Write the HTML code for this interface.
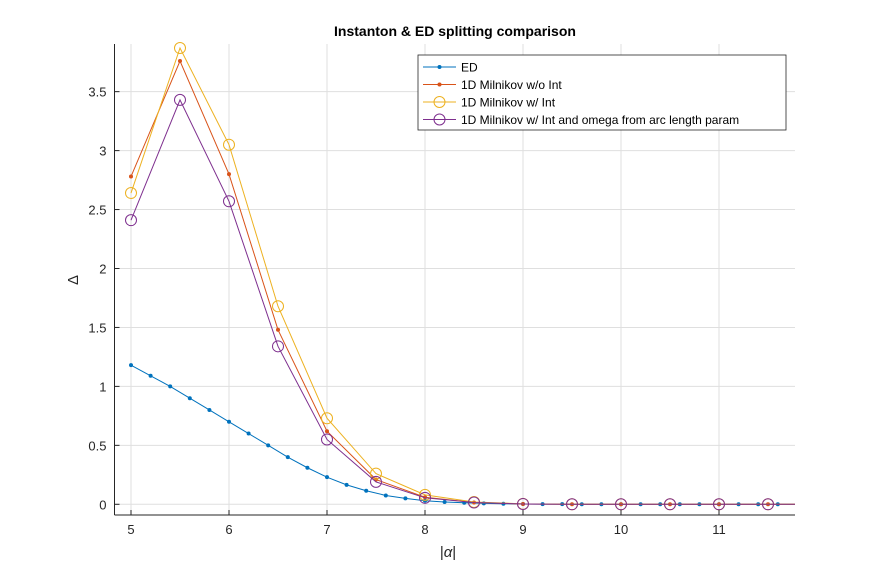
<!DOCTYPE html>
<html><head><meta charset="utf-8"><style>
body{margin:0;background:#fff;font-family:"Liberation Sans",sans-serif}
svg text{font-family:"Liberation Sans",sans-serif}
</style></head><body>
<svg width="879" height="580">
<rect width="879" height="580" fill="#fff"/>
<g id="grid"></g>
<g id="series"></g>
<g id="axes"></g>
<text x="455" y="36" text-anchor="middle" font-size="14" font-weight="bold" fill="#000">Instanton &amp; ED splitting comparison</text>
<text x="448" y="557" text-anchor="middle" font-size="15" font-family="Liberation Serif" fill="#262626">|<tspan font-style="italic">α</tspan>|</text>
<text x="78" y="280" text-anchor="middle" font-size="15" fill="#262626" transform="rotate(-90 78 280)">Δ</text>
<g>
<rect x="418" y="55" width="368" height="75" fill="#fff" stroke="#262626" stroke-width="0.8"/>
<g id="legend"></g>
</g>
</svg>
<script>
const edX=[5,5.2,5.4,5.6,5.8,6,6.2,6.4,6.6,6.8,7,7.2,7.4,7.6,7.8,8,8.2,8.4,8.6,8.8,9,9.2,9.4,9.6,9.8,10,10.2,10.4,10.6,10.8,11,11.2,11.4,11.6,11.8];
const edY=[1.18,1.09,1.0,0.9,0.8,0.7,0.6,0.5,0.4,0.31,0.23,0.165,0.115,0.075,0.05,0.03,0.02,0.013,0.008,0.005,0.003,0.002,0.001,0,0,0,0,0,0,0,0,0,0,0,0];
const mX=[5,5.5,6,6.5,7,7.5,8,8.5,9,9.5,10,10.5,11,11.5,12];
const woY=[2.78,3.76,2.80,1.48,0.62,0.21,0.06,0.015,0.003,0,0,0,0,0,0];
const wY=[2.64,3.87,3.05,1.68,0.73,0.26,0.08,0.02,0.004,0,0,0,0,0,0];
const arcY=[2.41,3.43,2.57,1.34,0.55,0.19,0.055,0.015,0.003,0,0,0,0,0,0];
const xTicks=[5,6,7,8,9,10,11];
const yTicks=[0,0.5,1,1.5,2,2.5,3,3.5];
const yLabels=["0","0.5","1","1.5","2","2.5","3","3.5"];
const L=114.5,R=795,T=44,B=515;
const sx=v=>131+(v-5)*98;
const sy=v=>504.3-v*117.9;
const NS="http://www.w3.org/2000/svg";
function mk(tag,attrs,parent){const e=document.createElementNS(NS,tag);for(const k in attrs)e.setAttribute(k,attrs[k]);parent.appendChild(e);return e;}
const grid=document.getElementById('grid'),axes=document.getElementById('axes'),ser=document.getElementById('series'),leg=document.getElementById('legend');
xTicks.forEach(t=>{const l=mk('line',{x1:sx(t),x2:sx(t),y1:T,y2:B,stroke:'#dfdfdf','stroke-width':1},grid);

const tx=mk('text',{x:sx(t),y:B+19,'text-anchor':'middle','font-size':13,fill:'#262626'},axes);tx.textContent=t;

mk('line',{x1:sx(t),x2:sx(t),y1:B,y2:B-5,stroke:'#262626'},axes);});
yTicks.forEach((t,i)=>{const l=mk('line',{x1:L,x2:R,y1:sy(t),y2:sy(t),stroke:'#dfdfdf','stroke-width':1},grid);

const tx=mk('text',{x:L-8,y:sy(t)+5,'text-anchor':'end','font-size':13,fill:'#262626'},axes);tx.textContent=yLabels[i];

mk('line',{x1:L,x2:L+5,y1:sy(t),y2:sy(t),stroke:'#262626'},axes);});
mk('line',{x1:L,x2:L,y1:T,y2:B,stroke:'#262626'},axes);
mk('line',{x1:L,x2:R,y1:B,y2:B,stroke:'#262626'},axes);
const clip=mk('clipPath',{id:'cp'},mk('defs',{},ser));mk('rect',{x:L,y:T-10,width:R-L,height:B-T+10},clip);
ser.setAttribute('clip-path','url(#cp)');
function draw(xs,ys,color,marker,name){
 const g=mk('g',{},ser);
 const p=mk('polyline',{points:xs.map((x,i)=>sx(x)+','+sy(ys[i])).join(' '),fill:'none',stroke:color,'stroke-width':1},g);
 
 xs.forEach((x,i)=>{let m;if(marker==='dot')m=mk('circle',{cx:sx(x),cy:sy(ys[i]),r:2,fill:color},g);
  else m=mk('circle',{cx:sx(x),cy:sy(ys[i]),r:5.5,fill:'none',stroke:color,'stroke-width':1},g);
  });
}
draw(edX,edY,'#0072bd','dot','ed-series');
draw(mX,woY,'#d95319','dot','milnikov-wo-int-series');
draw(mX,wY,'#edb120','circle','milnikov-w-int-series');
draw(mX,arcY,'#7e2f8e','circle','milnikov-arc-series');
const items=[['ED','#0072bd','dot'],['1D Milnikov w/o Int','#d95319','dot'],['1D Milnikov w/ Int','#edb120','circle'],['1D Milnikov w/ Int and omega from arc length param','#7e2f8e','circle']];
items.forEach((it,i)=>{const y=67+i*17.5;const g=mk('g',{},leg);
 
 mk('line',{x1:423,x2:456,y1:y,y2:y,stroke:it[1]},g);
 if(it[2]==='dot')mk('circle',{cx:439.5,cy:y,r:2,fill:it[1]},g);else mk('circle',{cx:439.5,cy:y,r:5.5,fill:'none',stroke:it[1]},g);
 const t=mk('text',{x:461,y:y+4.5,'font-size':12,fill:'#000'},g);t.textContent=it[0];});
</script>
</body></html>
